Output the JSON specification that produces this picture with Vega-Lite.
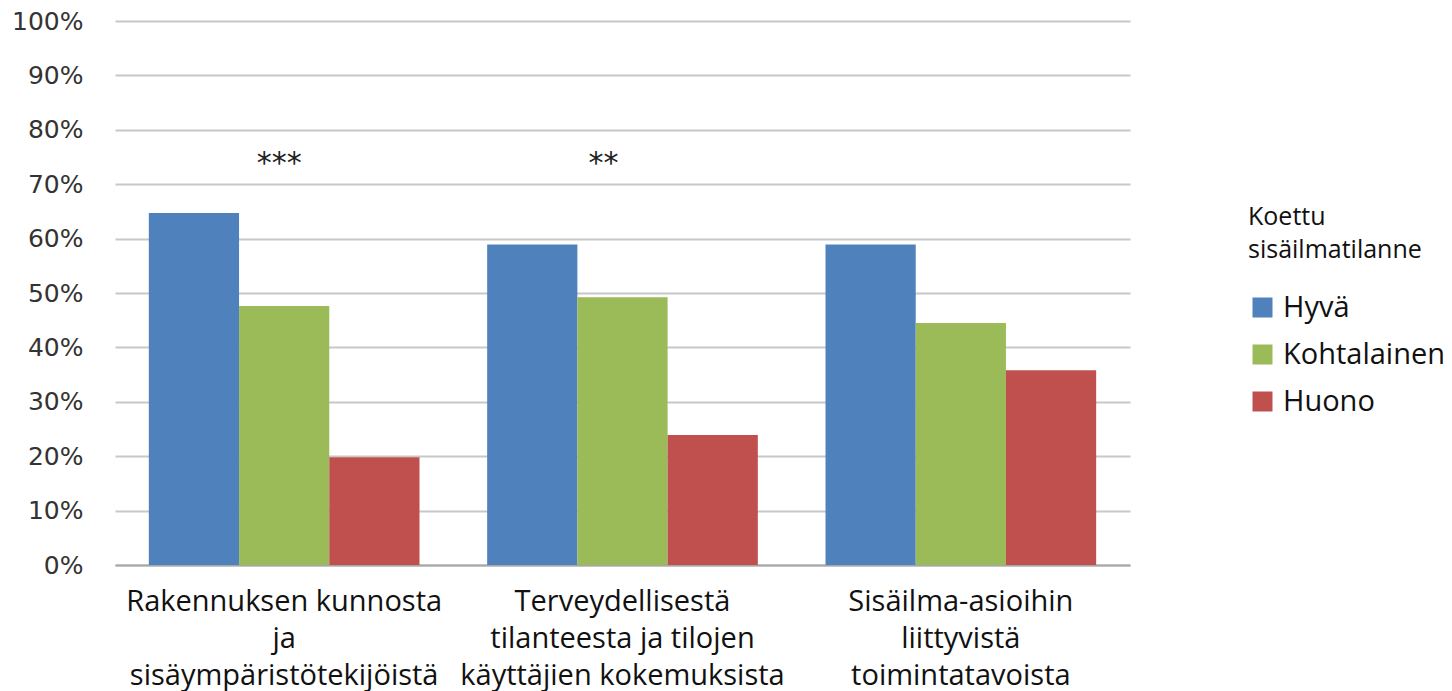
{
  "$schema": "https://vega.github.io/schema/vega-lite/v6.json",
  "autosize": "none",
  "width": 1015,
  "height": 544,
  "padding": {"left": 115, "top": 21, "right": 322, "bottom": 126},
  "background": "white",
  "config": {"view": {"stroke": null}},
  "datasets": {
    "bars": [
      {"kategoria": "Rakennuksen kunnosta|ja|sisäympäristötekijöistä", "tilanne": "Hyvä", "osuus": 0.647},
      {"kategoria": "Rakennuksen kunnosta|ja|sisäympäristötekijöistä", "tilanne": "Kohtalainen", "osuus": 0.476},
      {"kategoria": "Rakennuksen kunnosta|ja|sisäympäristötekijöistä", "tilanne": "Huono", "osuus": 0.198},
      {"kategoria": "Terveydellisestä|tilanteesta ja tilojen|käyttäjien kokemuksista", "tilanne": "Hyvä", "osuus": 0.589},
      {"kategoria": "Terveydellisestä|tilanteesta ja tilojen|käyttäjien kokemuksista", "tilanne": "Kohtalainen", "osuus": 0.492},
      {"kategoria": "Terveydellisestä|tilanteesta ja tilojen|käyttäjien kokemuksista", "tilanne": "Huono", "osuus": 0.239},
      {"kategoria": "Sisäilma-asioihin|liittyvistä|toimintatavoista", "tilanne": "Hyvä", "osuus": 0.589},
      {"kategoria": "Sisäilma-asioihin|liittyvistä|toimintatavoista", "tilanne": "Kohtalainen", "osuus": 0.445},
      {"kategoria": "Sisäilma-asioihin|liittyvistä|toimintatavoista", "tilanne": "Huono", "osuus": 0.358}
    ],
    "marks": [
      {"kategoria": "Rakennuksen kunnosta|ja|sisäympäristötekijöistä", "merkitsevyys": "***", "osuus": 0.745},
      {"kategoria": "Terveydellisestä|tilanteesta ja tilojen|käyttäjien kokemuksista", "merkitsevyys": "**", "osuus": 0.745}
    ]
  },
  "encoding": {
    "x": {
      "field": "kategoria",
      "type": "nominal",
      "sort": null,
      "scale": {
        "domain": [
          "Rakennuksen kunnosta|ja|sisäympäristötekijöistä",
          "Terveydellisestä|tilanteesta ja tilojen|käyttäjien kokemuksista",
          "Sisäilma-asioihin|liittyvistä|toimintatavoista"
        ],
        "paddingInner": 0.2,
        "paddingOuter": 0.1
      },
      "axis": {
        "title": null,
        "labelAngle": 0,
        "labelExpr": "split(datum.label, '|')",
        "labelFont": "Open Sans",
        "labelFontSize": 29,
        "labelLineHeight": 37,
        "labelColor": "#111111",
        "labelPadding": 22,
        "labelBaseline": "top",
        "labelLimit": 400,
        "labelOverlap": false,
        "labelBound": false,
        "ticks": false,
        "domainColor": "#a6a6a6",
        "domainWidth": 2,
        "grid": false
      }
    },
    "y": {
      "field": "osuus",
      "type": "quantitative",
      "scale": {"domain": [0, 1], "nice": false},
      "axis": {
        "title": null,
        "format": ".0%",
        "values": [0, 0.1, 0.2, 0.3, 0.4, 0.5, 0.6, 0.7, 0.8, 0.9, 1],
        "labelFont": "DejaVu Sans",
        "labelFontSize": 25,
        "labelColor": "#333333",
        "labelPadding": 32,
        "labelBaseline": "middle",
        "labelBound": false,
        "labelFlush": false,
        "ticks": false,
        "domain": false,
        "grid": true,
        "gridColor": "#c8c8c8",
        "gridWidth": 2
      }
    }
  },
  "layer": [
    {
      "data": {"name": "bars"},
      "mark": {"type": "bar"},
      "encoding": {
        "xOffset": {
          "field": "tilanne",
          "type": "nominal",
          "scale": {"domain": ["Hyvä", "Kohtalainen", "Huono"], "paddingInner": 0, "paddingOuter": 0}
        },
        "color": {
          "field": "tilanne",
          "type": "nominal",
          "scale": {"domain": ["Hyvä", "Kohtalainen", "Huono"], "range": ["#4F81BD", "#9BBB59", "#C0504D"]},
          "legend": {
            "title": ["Koettu", "sisäilmatilanne"],
            "orient": "none",
            "legendX": 1133,
            "legendY": 184,
            "titleFont": "Open Sans",
            "titleFontSize": 25,
            "titleFontWeight": "normal",
            "titleColor": "#111111",
            "titleLineHeight": 33,
            "titlePadding": 30,
            "titleLimit": 300,
            "labelFont": "Open Sans",
            "labelFontSize": 29,
            "labelColor": "#111111",
            "labelLimit": 300,
            "symbolType": "square",
            "symbolSize": 400,
            "symbolStrokeWidth": 0,
            "symbolOpacity": 1,
            "rowPadding": 17,
            "labelOffset": 6
          }
        }
      }
    },
    {
      "data": {"name": "marks"},
      "transform": [{"filter": "datum.merkitsevyys == '***'"}],
      "mark": {"type": "text", "font": "DejaVu Sans", "fontSize": 30, "color": "#222222", "baseline": "middle", "dx": -5, "dy": 4},
      "encoding": {
        "text": {"field": "merkitsevyys"}
      }
    },
    {
      "data": {"name": "marks"},
      "transform": [{"filter": "datum.merkitsevyys == '**'"}],
      "mark": {"type": "text", "font": "DejaVu Sans", "fontSize": 30, "color": "#222222", "baseline": "middle", "dx": -19, "dy": 4},
      "encoding": {
        "text": {"field": "merkitsevyys"}
      }
    }
  ]
}
